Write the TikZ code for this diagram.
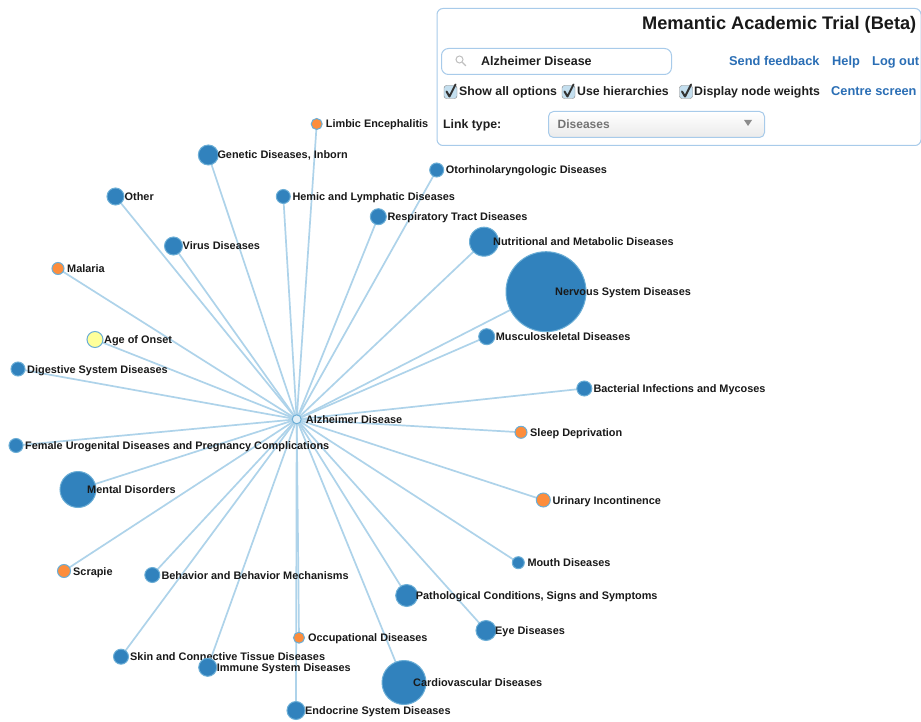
\documentclass[tikz,border=0pt]{standalone}
\usepackage{fontspec}
\setmainfont{Liberation Sans}
\usetikzlibrary{backgrounds}
\definecolor{ndblue}{HTML}{3182BD}
\definecolor{ndline}{HTML}{6BAED6}
\definecolor{edgeblue}{HTML}{AED3EA}
\definecolor{orng}{HTML}{FD8D3C}
\definecolor{ylw}{HTML}{FFFF99}
\definecolor{linkblue}{HTML}{2A6EB5}
\definecolor{boxline}{HTML}{A8CBEA}
\tikzset{
  nd/.style={circle, draw=ndline, line width=1pt, fill=ndblue, inner sep=0pt},
  lbl/.style={anchor=base west, inner sep=0pt, font=\fontsize{10.9}{12}\selectfont\bfseries, text=black!90},
  edge/.style={draw=edgeblue, line width=1.7pt},
  ptext/.style={anchor=base west, inner sep=0pt, font=\fontsize{12.3}{14}\selectfont\bfseries, text=black!88},
  plink/.style={anchor=base west, inner sep=0pt, font=\fontsize{12.8}{14}\selectfont\bfseries, text=linkblue},
  chk/.style={draw=black!50, fill=ndline!40, rounded corners=2.5pt, minimum size=13pt, inner sep=0pt}
}
% name, position, diameter, fill, text
\newcommand\dnode[5]{%
  \node[nd, fill=#4, minimum size=#3] (#1) at (#2) {};
  \node[lbl] (#1-t) at ([xshift=9pt,yshift=-4pt]#1.center) {#5};}
\begin{document}
\begin{tikzpicture}[x=1pt,y=-1pt]
\useasboundingbox (0,0) rectangle (921,722);
\begin{scope}[on background layer]
\fill[white] (0,0) rectangle (921,722);
\end{scope}
% centre
\dnode{alz}{296.7,419.3}{9pt}{ndline!20}{Alzheimer Disease}
% outer nodes
\dnode{limbic}{316.7,124}{11pt}{orng}{Limbic Encephalitis}
\dnode{genetic}{208.3,155}{20pt}{ndblue}{Genetic Diseases, Inborn}
\dnode{otor}{436.7,170}{14pt}{ndblue}{Otorhinolaryngologic Diseases}
\dnode{other}{115.5,196.5}{17pt}{ndblue}{Other}
\dnode{hemic}{283.3,196.5}{14pt}{ndblue}{Hemic and Lymphatic Diseases}
\dnode{resp}{378.3,216.7}{16pt}{ndblue}{Respiratory Tract Diseases}
\dnode{virus}{173.5,246}{18pt}{ndblue}{Virus Diseases}
\dnode{nutr}{484,241.7}{29pt}{ndblue}{Nutritional and Metabolic Diseases}
\dnode{malaria}{58,268.5}{12pt}{orng}{Malaria}
\dnode{nerv}{546,291.7}{80pt}{ndblue}{Nervous System Diseases}
\dnode{age}{95,339.5}{16pt}{ylw}{Age of Onset}
\dnode{musc}{486.7,336.7}{16pt}{ndblue}{Musculoskeletal Diseases}
\dnode{dig}{18,369}{14pt}{ndblue}{Digestive System Diseases}
\dnode{bact}{584.3,388.5}{15pt}{ndblue}{Bacterial Infections and Mycoses}
\dnode{sleep}{521,432.3}{12pt}{orng}{Sleep Deprivation}
\dnode{fem}{16,445.5}{14pt}{ndblue}{Female Urogenital Diseases and Pregnancy Complications}
\dnode{mental}{78,489.5}{36pt}{ndblue}{Mental Disorders}
\dnode{urin}{543.3,500}{14pt}{orng}{Urinary Incontinence}
\dnode{mouth}{518.3,562.7}{12pt}{ndblue}{Mouth Diseases}
\dnode{scrapie}{64,571}{13pt}{orng}{Scrapie}
\dnode{behav}{152.3,575}{15pt}{ndblue}{Behavior and Behavior Mechanisms}
\dnode{path}{406.7,595.5}{22pt}{ndblue}{Pathological Conditions, Signs and Symptoms}
\dnode{eye}{486,630.5}{20pt}{ndblue}{Eye Diseases}
\dnode{occ}{299,637.7}{11pt}{orng}{Occupational Diseases}
\dnode{skin}{121,656.7}{15pt}{ndblue}{Skin and Connective Tissue Diseases}
\dnode{immune}{207.7,667.3}{18pt}{ndblue}{Immune System Diseases}
\dnode{cardio}{404,682.5}{44pt}{ndblue}{Cardiovascular Diseases}
\dnode{endo}{296,710.5}{18pt}{ndblue}{Endocrine System Diseases}
% edges
\begin{scope}[on background layer]
\foreach \t in {limbic,genetic,otor,other,hemic,resp,virus,nutr,malaria,nerv,age,musc,dig,bact,sleep,fem,mental,urin,mouth,scrapie,behav,path,eye,occ,skin,immune,cardio,endo}
  \draw[edge] (alz.center) -- (\t.center);
\end{scope}
% panel
\node[draw=boxline, line width=1pt, rounded corners=6pt, fill=white, anchor=north west, minimum width=484pt, minimum height=137pt, inner sep=0pt] (panel) at (436.5,8) {};
\node[anchor=base east, inner sep=0pt, font=\fontsize{18.2}{20}\selectfont\bfseries, text=black!90] (title) at (916.5,29.5) {Memantic Academic Trial (Beta)};
\node[draw=boxline, line width=1pt, rounded corners=7pt, fill=white, anchor=north west, minimum width=230pt, minimum height=26pt, inner sep=0pt] (search) at (441,48) {};
\node[circle, draw=black!25, line width=1pt, minimum size=7pt, inner sep=0pt] (lens) at (459.5,59.5) {};
\draw[black!25, line width=1.3pt] (lens.south east) -- ++(3.5,3.5);
\node[ptext, font=\fontsize{12.5}{14}\selectfont\bfseries] (query) at (481,65.5) {Alzheimer Disease};
\node[plink] (feedback) at (729,65.5) {Send feedback};
\node[plink] (help) at (832,65.5) {Help};
\node[plink] (logout) at (872,65.5) {Log out};
\node[chk] (c1) at (450.5,92) {};
\node[chk] (c2) at (568.5,92) {};
\node[chk] (c3) at (686,92) {};
\foreach \c in {c1,c2,c3}
  \draw[black!80, line width=2pt, line cap=round, line join=round] ([xshift=-4pt,yshift=0.5pt]\c.center) -- ([xshift=-1pt,yshift=-4.5pt]\c.center) -- ([xshift=5pt,yshift=7.5pt]\c.center);
\node[ptext] (opt1) at (459,95.5) {Show all options};
\node[ptext] (opt2) at (577,95.5) {Use hierarchies};
\node[ptext] (opt3) at (694,95.5) {Display node weights};
\node[plink] (centre) at (831,95.5) {Centre screen};
\node[ptext] (linktype) at (443,128.5) {Link type:};
\node[draw=boxline, line width=1pt, rounded corners=5pt, top color=white, bottom color=black!8, anchor=north west, minimum width=216pt, minimum height=26pt, inner sep=0pt] (dropdown) at (548,111) {};
\node[ptext, font=\fontsize{12}{14}\selectfont\bfseries, text=black!55] (ddtext) at (557.5,129) {Diseases};
\fill[black!45] (744,120) -- (752,120) -- (748,126) -- cycle;
\end{tikzpicture}
\end{document}
